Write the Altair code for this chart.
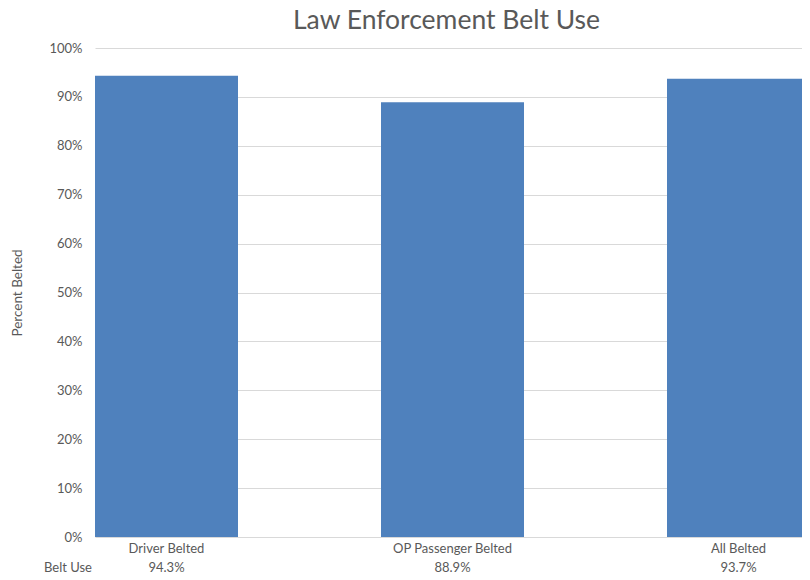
import altair as alt
import pandas as pd

categories = ["Driver Belted", "OP Passenger Belted", "All Belted"]
values = [0.943, 0.889, 0.937]
value_labels = ["94.3%", "88.9%", "93.7%"]
row_label = ["Belt Use"]

df = pd.DataFrame({"cat": categories, "val": values, "lab": value_labels})

W, H = 707, 489
FULL = 715
FONT = "Lato"
GREY = "#595959"

x = alt.X("cat:N", sort=categories, title=None,
          scale=alt.Scale(paddingInner=0.5, paddingOuter=0, range=[0, FULL]),
          axis=alt.Axis(labelAngle=0, labelFont=FONT, labelFontSize=13, labelColor=GREY,
                        labelPadding=5, ticks=False, domain=False))

bars = alt.Chart(df).mark_bar(color="#4F81BD").encode(
    x=x,
    y=alt.Y("val:Q", title="Percent Belted",
            scale=alt.Scale(domain=[0, 1]),
            axis=alt.Axis(format=".0%", values=[i / 10 for i in range(11)],
                          labelFont=FONT, labelFontSize=13, labelColor=GREY,
                          labelPadding=13, ticks=False, domain=False,
                          gridColor="#D9D9D9", titleFont=FONT, titleFontSize=13.5,
                          titleFontWeight="normal", titleColor=GREY, titlePadding=24)),
)

vals = alt.Chart(df).mark_text(font=FONT, fontSize=13, color=GREY, baseline="middle").encode(
    x=alt.X("cat:N", sort=categories),
    y=alt.value(H + 31),
    text="lab:N",
)

rowlab = alt.Chart(pd.DataFrame({"t": row_label})).mark_text(
    font=FONT, fontSize=13, color=GREY, baseline="middle", align="center").encode(
    x=alt.value(-27), y=alt.value(H + 31), text="t:N")

chart = alt.layer(bars, vals, rowlab).properties(
    width=W, height=H,
    title=alt.TitleParams("Law Enforcement Belt Use", font=FONT, fontSize=26.5,
                          fontWeight="normal", color=GREY, anchor="middle", dx=-2, offset=8),
    autosize=alt.AutoSizeParams(type="none"),
    padding={"left": 87, "top": 40, "right": 0, "bottom": 42},
).configure_view(stroke=None)

chart.save("out.html", embed_options={"renderer": "svg", "actions": False})
